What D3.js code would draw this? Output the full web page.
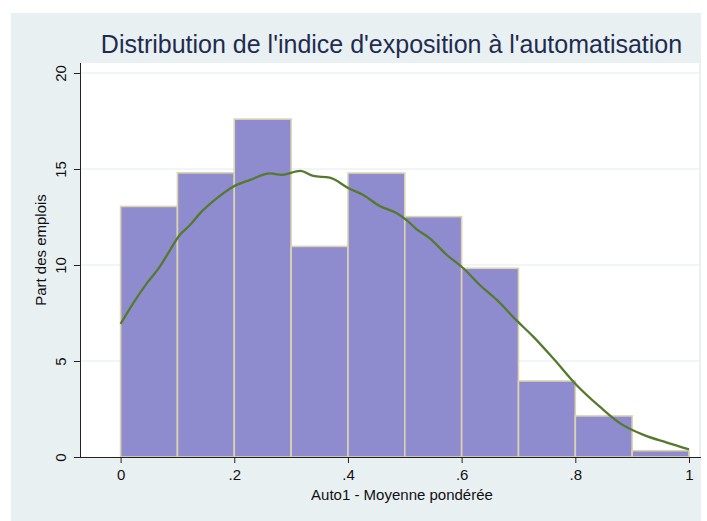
<!DOCTYPE html>
<html>
<head>
<meta charset="utf-8">
<script src="https://cdn.jsdelivr.net/npm/d3@7"></script>
<style>
  html, body { margin: 0; padding: 0; background: #ffffff; }
  svg { display: block; font-family: "Liberation Sans", Arial, Helvetica, sans-serif; }
</style>
</head>
<body>
<svg id="chart" width="707" height="521"></svg>
<script>
// Histogram bins (lower edge) and their share of jobs, in percent
const binStarts = [0, 0.1, 0.2, 0.3, 0.4, 0.5, 0.6, 0.7, 0.8, 0.9];
const binWidth = 0.1;
const binShares = [13.05, 14.8, 17.6, 10.97, 14.79, 12.52, 9.83, 3.96, 2.14, 0.33];

// Kernel density estimate, rescaled to percent per bin
const densityX = [0, 0.022, 0.046, 0.069, 0.087, 0.104, 0.122, 0.140, 0.169, 0.198,
  0.228, 0.263, 0.283, 0.316, 0.339, 0.368, 0.401, 0.427, 0.456, 0.486,
  0.503, 0.521, 0.544, 0.574, 0.603, 0.632, 0.662, 0.697, 0.726, 0.761,
  0.802, 0.843, 0.879, 0.920, 0.961, 1.0];
const densityY = [6.93, 8.0, 9.04, 9.91, 10.78, 11.56, 12.08, 12.7, 13.47, 14.08,
  14.43, 14.77, 14.69, 14.9, 14.64, 14.55, 14.0, 13.65, 13.07, 12.69,
  12.34, 11.86, 11.39, 10.52, 9.83, 8.96, 8.18, 7.1, 6.27, 5.14,
  3.75, 2.62, 1.75, 1.15, 0.75, 0.40];

const xTicks = [0, 0.2, 0.4, 0.6, 0.8, 1];
const yTicks = [0, 5, 10, 15, 20];

const titleText = "Distribution de l'indice d'exposition à l'automatisation";
const xTitle = "Auto1 - Moyenne pondérée";
const yTitle = "Part des emplois";

const svg = d3.select("#chart");

// outer panel
svg.append("rect").attr("x", 11).attr("y", 13).attr("width", 690).attr("height", 508)
  .attr("fill", "#e8f0f2");

const plot = { left: 80, right: 699, top: 63, bottom: 457 };
svg.append("rect").attr("x", plot.left).attr("y", plot.top)
  .attr("width", plot.right - plot.left).attr("height", plot.bottom - plot.top)
  .attr("fill", "#ffffff");

const x = d3.scaleLinear().domain([0, 1]).range([120.6, 689]);
const y = d3.scaleLinear().domain([0, 20]).range([457, 73]);

// horizontal grid lines
svg.append("g").selectAll("line").data(yTicks.filter(d => d > 0)).join("line")
  .attr("x1", plot.left).attr("x2", plot.right)
  .attr("y1", d => y(d)).attr("y2", d => y(d))
  .attr("stroke", "#e4eced").attr("stroke-width", 1.2);

// bars
svg.append("g").selectAll("rect").data(binStarts).join("rect")
  .attr("x", d => x(d))
  .attr("y", (d, i) => y(binShares[i]))
  .attr("width", d => x(d + binWidth) - x(d))
  .attr("height", (d, i) => y(0) - y(binShares[i]))
  .attr("fill", "#8f8bcf")
  .attr("stroke", "#ddd4ae")
  .attr("stroke-width", 1.6);

// density curve
const line = d3.line().x(d => x(d[0])).y(d => y(d[1])).curve(d3.curveMonotoneX);
svg.append("path")
  .datum(densityX.map((d, i) => [d, densityY[i]]))
  .attr("d", line)
  .attr("fill", "none")
  .attr("stroke", "#557a2e")
  .attr("stroke-width", 2.3)
  .attr("stroke-linejoin", "round");

// x axis
const xAxis = d3.axisBottom(x).tickValues(xTicks).tickSize(6).tickPadding(6)
  .tickFormat(d => d === 0 ? "0" : d === 1 ? "1" : d3.format(".1f")(d).replace(/^0/, ""));
const gx = svg.append("g").attr("transform", `translate(0,${plot.bottom})`).call(xAxis);
gx.select(".domain").attr("d", `M${plot.left},0.5H${plot.right + 2}`).attr("stroke", "#222");
gx.selectAll(".tick line").attr("stroke", "#222");
gx.selectAll(".tick text").attr("font-size", 15).attr("fill", "#111")
  .attr("font-family", "Liberation Sans, Arial, sans-serif");

// y axis with rotated labels
const yAxis = d3.axisLeft(y).tickValues(yTicks).tickSize(6).tickPadding(4);
const gy = svg.append("g").attr("transform", `translate(${plot.left},0)`).call(yAxis);
gy.select(".domain").attr("d", `M0.5,${plot.top}V${plot.bottom}`).attr("stroke", "#222");
gy.selectAll(".tick line").attr("stroke", "#222");
gy.selectAll(".tick text")
  .attr("font-size", 15).attr("fill", "#111")
  .attr("font-family", "Liberation Sans, Arial, sans-serif")
  .attr("x", null)
  .attr("text-anchor", "middle")
  .attr("transform", "translate(-18.5,0) rotate(-90)")
  .attr("dy", "0.32em");

// titles
svg.append("text").attr("x", 391.5).attr("y", 53).attr("text-anchor", "middle")
  .attr("font-size", 25).attr("fill", "#1f2c4f").text(titleText);
svg.append("text").attr("x", 402).attr("y", 500).attr("text-anchor", "middle")
  .attr("font-size", 15).attr("fill", "#111").text(xTitle);
svg.append("text").attr("transform", "translate(46,250) rotate(-90)")
  .attr("text-anchor", "middle").attr("font-size", 15).attr("fill", "#111").text(yTitle);
</script>
</body>
</html>
